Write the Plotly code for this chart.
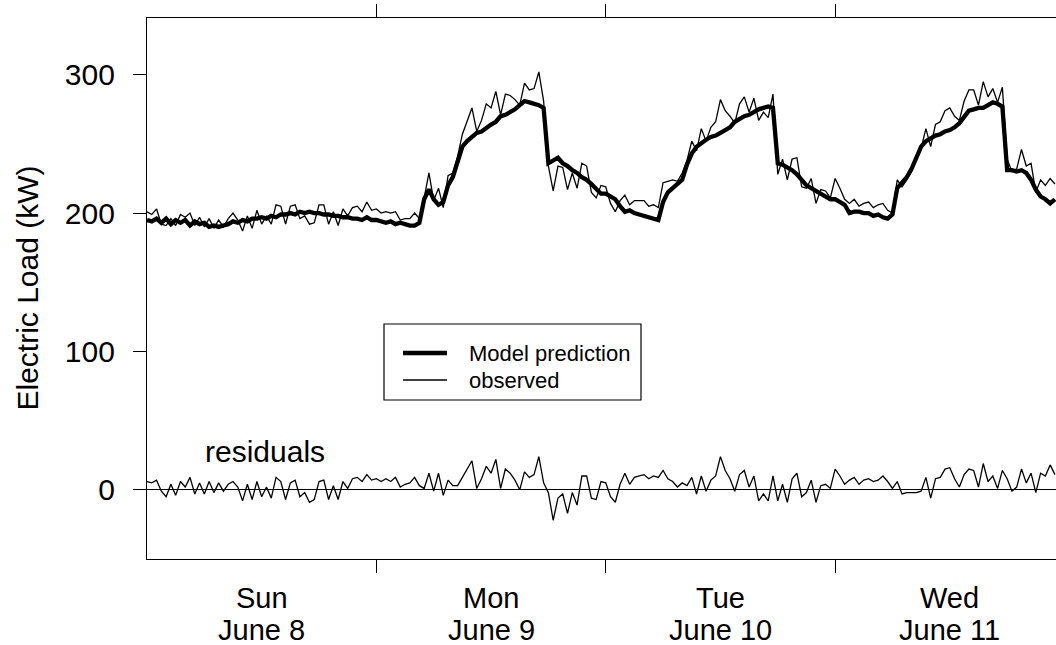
import plotly.graph_objects as go

# ---- data ----
steps_per_day = 48  # half-hourly readings
day_ticks = [1, 2, 3]
day_centers = [0.5, 1.5, 2.5, 3.5]
day_names = ["Sun", "Mon", "Tue", "Wed"]
day_dates = ["June 8", "June 9", "June 10", "June 11"]
y_ticks = [0, 100, 200, 300]
legend_labels = ["Model prediction", "observed"]

predicted = [
    # Sun
    195, 194, 196, 193, 196, 192, 195, 193, 195, 191,
    194, 192, 193, 190, 191, 190, 191, 192, 194, 193,
    195, 194, 196, 196, 197, 196, 198, 197, 199, 199,
    200, 199, 201, 200, 201, 200, 200, 199, 199, 198,
    198, 197, 197, 196, 196, 195, 197, 195,
    # Mon
    195, 194, 193, 194, 192, 193, 192, 191, 191, 193,
    210, 217, 210, 206, 208, 220, 226, 238, 248, 252,
    255, 258, 259, 262, 264, 266, 270, 271, 273, 275,
    278, 281, 280, 279, 278, 276, 236, 238, 240, 236,
    234, 231, 229, 226, 224, 221, 218, 214,
    # Tue
    214, 212, 210, 205, 201, 202, 200, 199, 198, 197,
    196, 195, 208, 215, 218, 221, 224, 235, 243, 248,
    251, 253, 255, 256, 258, 260, 262, 266, 268, 270,
    271, 273, 275, 276, 277, 276, 236, 235, 233, 231,
    228, 224, 220, 218, 216, 214, 212, 210,
    # Wed
    210, 208, 206, 200, 201, 201, 200, 200, 198, 199,
    197, 196, 199, 218, 222, 226, 232, 241, 248, 252,
    254, 256, 257, 259, 260, 262, 265, 270, 274, 275,
    276, 276, 278, 280, 279, 277, 231, 231, 230, 231,
    229, 224, 217, 212, 210, 207, 210,
]

observed = [
    # Sun
    201, 199, 203, 192, 191, 196, 191, 199, 197, 200,
    191, 197, 190, 196, 189, 195, 190, 196, 200, 195,
    187, 198, 189, 202, 192, 198, 192, 206, 205, 192,
    205, 206, 196, 198, 192, 193, 206, 206, 192, 201,
    191, 203, 198, 204, 205, 201, 208, 202,
    # Mon
    203, 200, 201, 200, 201, 195, 196, 196, 200, 196,
    211, 229, 209, 218, 204, 227, 229, 241, 257, 267,
    276, 259, 267, 279, 276, 288, 271, 286, 285, 282,
    278, 294, 289, 290, 302, 281, 234, 216, 234, 233,
    217, 229, 218, 236, 234, 215, 211, 220,
    # Tue
    219, 207, 201, 209, 213, 206, 209, 209, 209, 205,
    206, 204, 222, 223, 224, 223, 229, 238, 252, 245,
    261, 252, 262, 266, 282, 274, 270, 265, 279, 284,
    273, 283, 267, 273, 269, 286, 228, 239, 224, 239,
    240, 219, 218, 225, 207, 217, 216, 211,
    # Wed
    225, 218, 210, 207, 210, 205, 207, 208, 204, 206,
    207, 202, 200, 224, 219, 224, 230, 239, 247, 261,
    248, 264, 266, 274, 276, 270, 267, 281, 289, 289,
    278, 295, 284, 290, 280, 291, 239, 230, 232, 246,
    234, 236, 215, 224, 220, 225, 221,
]

time_days = [i / steps_per_day for i in range(len(predicted))]
residuals = [o - p for o, p in zip(observed, predicted)]

FONT = "Liberation Sans, Arial, Helvetica, sans-serif"
W, H = 1056, 645
ML, MR, MT, MB = 147, 0, 18, 86
PW, PH = W - ML - MR, H - MT - MB


def px_x(px):
    return (px - ML) / PW


def px_y(py):
    return (H - MB - py) / PH


THICK, THIN = 4.3, 1.3

fig = go.Figure()
fig.add_trace(go.Scatter(x=time_days, y=predicted, mode="lines", name=legend_labels[0],
                         showlegend=False, line=dict(color="black", width=THICK)))
fig.add_trace(go.Scatter(x=time_days, y=observed, mode="lines", name=legend_labels[1],
                         showlegend=False, line=dict(color="black", width=THIN)))
fig.add_trace(go.Scatter(x=time_days, y=residuals, mode="lines", name="residuals",
                         showlegend=False, line=dict(color="black", width=THIN)))

annotations = []
# day labels under the axis (two lines each)
for c, nm, dt in zip(day_centers, day_names, day_dates):
    annotations.append(dict(text=nm, x=c, y=px_y(598), xref="x", yref="paper",
                            showarrow=False, font=dict(size=29),
                            xanchor="center", yanchor="middle"))
    annotations.append(dict(text=dt, x=c, y=px_y(630), xref="x", yref="paper",
                            showarrow=False, font=dict(size=29),
                            xanchor="center", yanchor="middle"))
annotations += [
    dict(text="residuals", x=0.516, y=28, xref="x", yref="y", showarrow=False,
         font=dict(size=30), xanchor="center", yanchor="middle"),
    dict(text="Electric Load (kW)", x=px_x(27), y=0.5, xref="paper", yref="paper",
         showarrow=False, textangle=-90, font=dict(size=30),
         xanchor="center", yanchor="middle"),
]
# legend text
for lbl, py in zip(legend_labels, [353, 380]):
    annotations.append(dict(text=lbl, x=px_x(467), y=px_y(py), xref="paper", yref="paper",
                            showarrow=False, font=dict(size=22),
                            xanchor="left", yanchor="middle"))

shapes = [
    # legend box
    dict(type="rect", xref="paper", yref="paper", x0=px_x(384), x1=px_x(641),
         y0=px_y(400), y1=px_y(324), line=dict(color="black", width=1.2),
         fillcolor="white", layer="above"),
    dict(type="line", xref="paper", yref="paper", x0=px_x(403), x1=px_x(447),
         y0=px_y(353), y1=px_y(353), line=dict(color="black", width=THICK)),
    dict(type="line", xref="paper", yref="paper", x0=px_x(403), x1=px_x(447),
         y0=px_y(380), y1=px_y(380), line=dict(color="black", width=THIN)),
]

fig.update_layout(
    width=W, height=H,
    margin=dict(l=ML, r=MR, t=MT, b=MB),
    plot_bgcolor="white", paper_bgcolor="white",
    font=dict(family=FONT, color="black", size=30),
    showlegend=False,
    xaxis=dict(range=[0, 3.963], tickmode="array", tickvals=day_ticks,
               ticks="outside", ticklen=13, tickwidth=1.3, tickcolor="black",
               showticklabels=False,
               showline=True, linecolor="black", linewidth=1.3, mirror="ticks",
               showgrid=False, zeroline=False),
    yaxis=dict(range=[-50, 341], tickmode="array", tickvals=y_ticks, ticks="outside",
               ticklen=13, tickwidth=1.3, tickcolor="black", showline=True, linecolor="black",
               linewidth=1.3, mirror=False, showgrid=False, zeroline=True,
               zerolinecolor="black", zerolinewidth=1.3, ticklabelstandoff=12,
               tickfont=dict(size=30)),
    annotations=annotations,
    shapes=shapes,
)

fig.write_html("out.html", config={"displayModeBar": False},
               post_script="document.body.style.margin='0';")
